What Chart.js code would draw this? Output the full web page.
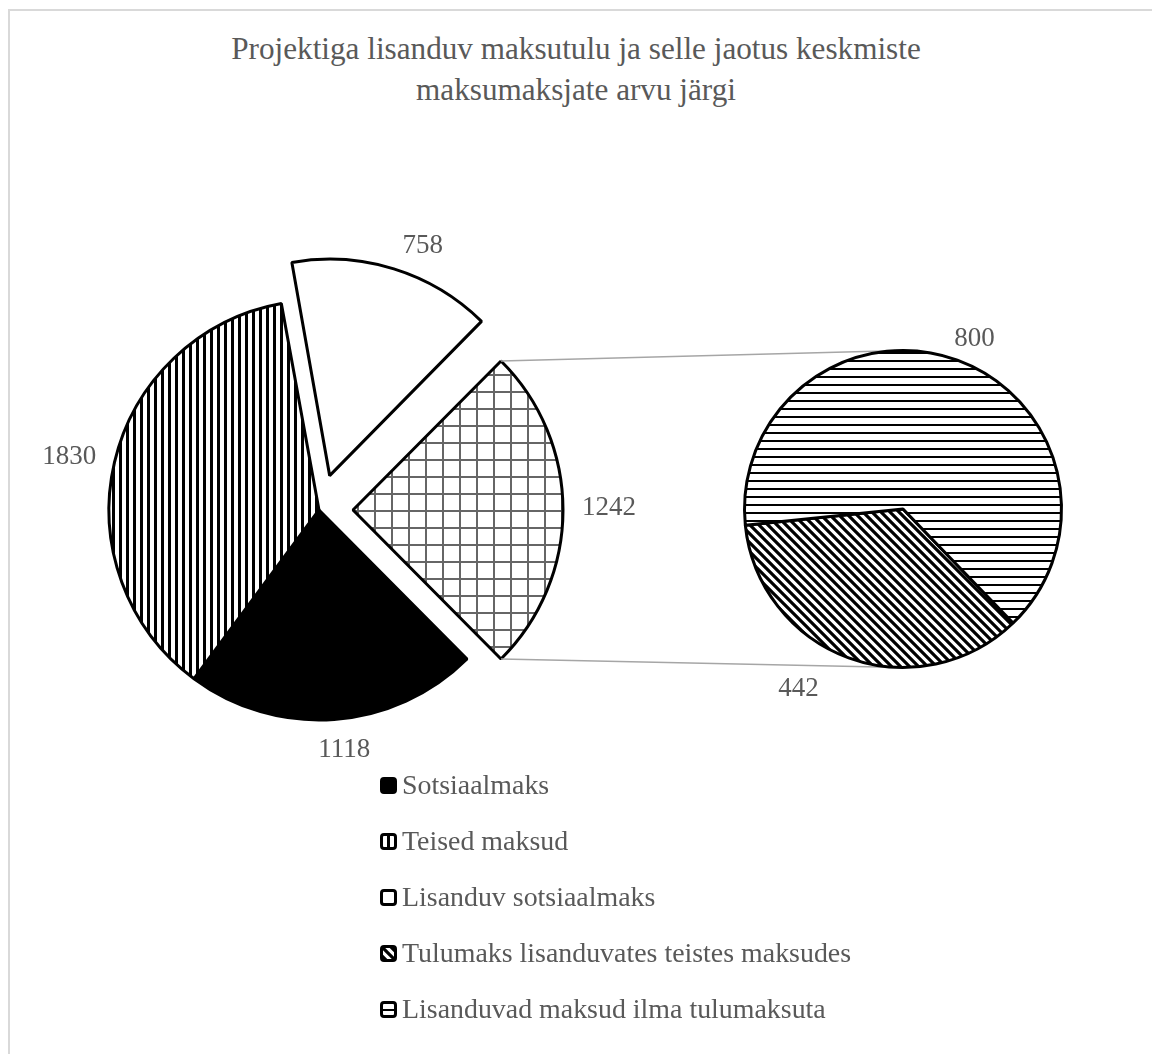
<!DOCTYPE html>
<html>
<head>
<meta charset="utf-8">
<script src="https://cdn.jsdelivr.net/npm/chart.js@4.4.1/dist/chart.umd.min.js"></script>
<style>
  html, body { margin: 0; padding: 0; background: #fff; }
  #wrap { position: relative; width: 1152px; height: 1054px; overflow: hidden; }
  #frame { position: absolute; left: 8px; top: 9px; width: 1200px; height: 1100px;
           border-left: 2px solid #d9d9d9; border-top: 2px solid #d9d9d9; }
  #title { position: absolute; left: 0; top: 28px; width: 1152px; text-align: center;
           font-family: 'Liberation Serif', 'Times New Roman', serif; font-size: 31.2px;
           line-height: 41px; color: #595959; }
  .chart { position: absolute; left: 0; top: 0; }
  #legend { position: absolute; left: 380px; top: 757px;
            font-family: 'Liberation Serif', 'Times New Roman', serif; font-size: 27.9px; color: #595959; }
  .item { height: 56px; display: flex; align-items: center; white-space: nowrap; }
  .item canvas { margin-right: 5px; }
</style>
</head>
<body>
<div id="wrap">
  <div id="frame"></div>
  <div id="title"></div>
  <canvas id="mainPie" class="chart" width="1152" height="1054"></canvas>
  <canvas id="subPie" class="chart" width="1152" height="1054"></canvas>
  <div id="legend"></div>
</div>
<script>
// chart data
const titleLines = ['Projektiga lisanduv maksutulu ja selle jaotus keskmiste', 'maksumaksjate arvu järgi'];
const mainLabels = ['Sotsiaalmaks', 'Teised maksud', 'Lisanduv sotsiaalmaks', 'Muu'];
const mainValues = [1118, 1830, 758, 1242];
const subLabels = ['Tulumaks lisanduvates teistes maksudes', 'Lisanduvad maksud ilma tulumaksuta'];
const subValues = [442, 800];

const GRAY = '#595959';
const FONT = "'Liberation Serif', 'Times New Roman', serif";

// fill patterns (black & white hatching like the original)
function makePattern(size, draw) {
  const c = document.createElement('canvas');
  c.width = c.height = size;
  const g = c.getContext('2d');
  g.fillStyle = '#fff';
  g.fillRect(0, 0, size, size);
  draw(g, size);
  return g.createPattern(c, 'repeat');
}
const patterns = {
  solid: '#000',
  white: '#fff',
  vertical: makePattern(7, (g, s) => { g.fillStyle = '#000'; g.fillRect(0, 0, 3, s); }),
  horizontal: makePattern(8, (g, s) => { g.fillStyle = '#000'; g.fillRect(0, 0, s, 2); }),
  grid: makePattern(17, (g, s) => {
    g.fillStyle = '#666';
    g.fillRect(0, 0, s, 2);
    g.fillRect(0, 0, 2, s);
  }),
  diagonal: makePattern(9, (g, s) => {
    g.strokeStyle = '#000';
    g.lineWidth = 3.2;
    g.beginPath();
    g.moveTo(-1, -1); g.lineTo(s + 1, s + 1);
    g.moveTo(-s, 0); g.lineTo(s, 2 * s);
    g.moveTo(0, -s); g.lineTo(2 * s, s);
    g.stroke();
  })
};
const mainFills = [patterns.solid, patterns.vertical, patterns.white, patterns.grid];
const subFills = [patterns.diagonal, patterns.horizontal];

// value labels just outside each slice
const valueLabels = {
  id: 'valueLabels',
  afterDatasetsDraw(chart, args, opts) {
    const ctx = chart.ctx;
    const meta = chart.getDatasetMeta(0);
    const values = chart.data.datasets[0].data;
    ctx.save();
    ctx.font = opts.size + 'px ' + FONT;
    ctx.fillStyle = GRAY;
    ctx.textAlign = 'center';
    ctx.textBaseline = 'middle';
    meta.data.forEach((arc, i) => {
      const mid = (arc.startAngle + arc.endAngle) / 2;
      const shift = (arc.options.offset || 0) / 4;
      const cx = arc.x + Math.cos(mid) * shift;
      const cy = arc.y + Math.sin(mid) * shift;
      const r = arc.outerRadius + opts.gap;
      const text = String(values[i]);
      const w = ctx.measureText(text).width;
      const h = opts.size * 0.7;
      const nudge = opts.nudge[i] || [0, 0];
      const x = cx + Math.cos(mid) * (r + w / 2 * Math.abs(Math.cos(mid))) + nudge[0];
      const y = cy + Math.sin(mid) * (r + h / 2 * Math.abs(Math.sin(mid))) + nudge[1];
      ctx.fillText(text, x, y);
    });
    ctx.restore();
  }
};

// secondary pie first, so the main one can link to it
const subChart = new Chart(document.getElementById('subPie'), {
  type: 'pie',
  data: {
    labels: subLabels,
    datasets: [{
      data: subValues,
      backgroundColor: subFills,
      borderColor: '#000',
      borderWidth: 3
    }]
  },
  options: {
    responsive: false,
    animation: false,
    rotation: 136,
    radius: 158.5,
    layout: { padding: { left: 654, right: 0, top: 0, bottom: 36 } },
    plugins: {
      legend: { display: false },
      tooltip: { enabled: false },
      valueLabels: { size: 27, gap: 14, nudge: [[-43, 10], [10, 0]] }
    }
  },
  plugins: [valueLabels]
});

// gray lines from the "other" slice to the secondary pie
const connectors = {
  id: 'connectors',
  afterDatasetsDraw(chart) {
    const arc = chart.getDatasetMeta(0).data[3];
    const sub = subChart.getDatasetMeta(0).data[0];
    const mid = (arc.startAngle + arc.endAngle) / 2;
    const shift = (arc.options.offset || 0) / 4;
    const cx = arc.x + Math.cos(mid) * shift;
    const cy = arc.y + Math.sin(mid) * shift;
    const R = arc.outerRadius;
    const ctx = chart.ctx;
    ctx.save();
    ctx.strokeStyle = '#a6a6a6';
    ctx.lineWidth = 1.5;
    ctx.beginPath();
    ctx.moveTo(cx + Math.cos(arc.startAngle) * R, cy + Math.sin(arc.startAngle) * R);
    ctx.lineTo(sub.x, sub.y - sub.outerRadius);
    ctx.moveTo(cx + Math.cos(arc.endAngle) * R, cy + Math.sin(arc.endAngle) * R);
    ctx.lineTo(sub.x, sub.y + sub.outerRadius);
    ctx.stroke();
    ctx.restore();
  }
};

const mainTotal = mainValues.reduce((a, b) => a + b, 0);

new Chart(document.getElementById('mainPie'), {
  type: 'pie',
  data: {
    labels: mainLabels,
    datasets: [{
      data: mainValues,
      backgroundColor: mainFills,
      borderColor: '#000',
      borderWidth: 3,
      offset: [0, 0, 144, 136]
    }]
  },
  options: {
    responsive: false,
    animation: false,
    // the linked slice sits centred on the right side
    rotation: 90 + mainValues[3] / mainTotal * 180,
    radius: 210,
    layout: { padding: { left: 0, right: 514, top: 0, bottom: 34 } },
    plugins: {
      legend: { display: false },
      tooltip: { enabled: false },
      valueLabels: { size: 27, gap: 14, nudge: [[9, 7], [-6, -2], [25, -7], [5, -2]] }
    }
  },
  plugins: [valueLabels, connectors]
});

// title
document.getElementById('title').innerHTML = titleLines.join('<br>');

// legend: first three main slices, then the two secondary slices
const legendItems = [
  [mainLabels[0], mainFills[0]],
  [mainLabels[1], mainFills[1]],
  [mainLabels[2], mainFills[2]],
  [subLabels[0], subFills[0]],
  [subLabels[1], subFills[1]]
];
const legend = document.getElementById('legend');
legendItems.forEach(([label, fill]) => {
  const row = document.createElement('div');
  row.className = 'item';
  const sw = document.createElement('canvas');
  sw.width = 17;
  sw.height = 17;
  const g = sw.getContext('2d');
  g.beginPath();
  g.roundRect(1.5, 1.5, 14, 14, 2.5);
  g.fillStyle = fill;
  g.fill();
  g.lineWidth = 3;
  g.strokeStyle = '#000';
  g.stroke();
  const span = document.createElement('span');
  span.textContent = label;
  row.appendChild(sw);
  row.appendChild(span);
  legend.appendChild(row);
});
</script>
</body>
</html>
